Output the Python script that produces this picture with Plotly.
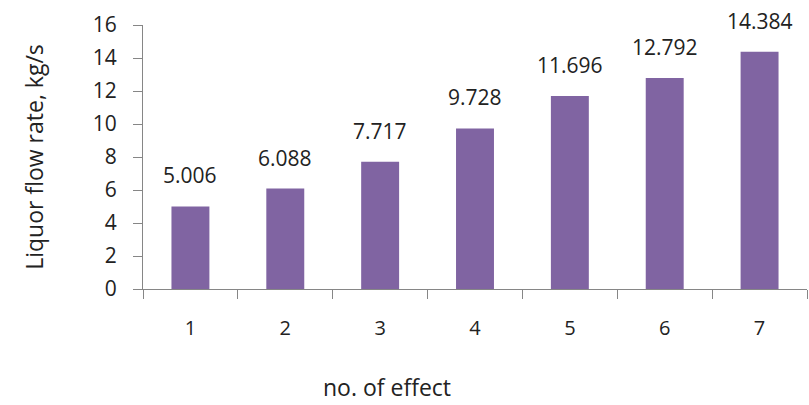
import plotly.graph_objects as go

categories = ["1", "2", "3", "4", "5", "6", "7"]
values = [5.006, 6.088, 7.717, 9.728, 11.696, 12.792, 14.384]
labels = ["5.006", "6.088", "7.717", "9.728", "11.696", "12.792", "14.384"]
y_ticks = [0, 2, 4, 6, 8, 10, 12, 14, 16]

FONT = "Open Sans"
AXIS_COLOR = "#868686"
TEXT_COLOR = "#222222"

fig = go.Figure()
fig.add_trace(go.Bar(
    x=categories, y=values,
    marker=dict(color="#8064A2", line=dict(width=0)),
    width=0.4,
    hoverinfo="skip",
))

for i, (v, t) in enumerate(zip(values, labels)):
    fig.add_annotation(x=i, y=v, text=t, showarrow=False, xanchor="center",
                       yanchor="bottom", yshift=15,
                       font=dict(family=FONT, size=21, color=TEXT_COLOR))

fig.add_annotation(xref="paper", yref="paper", x=0.367, y=-0.372,
                   text="no. of effect", showarrow=False, xanchor="center",
                   yanchor="middle", font=dict(family=FONT, size=23, color=TEXT_COLOR))

fig.update_layout(
    width=809, height=405,
    margin=dict(l=143, r=2, t=25, b=116),
    paper_bgcolor="white", plot_bgcolor="white",
    showlegend=False,
    font=dict(family=FONT, color=TEXT_COLOR),
    xaxis=dict(
        type="category", range=[-0.5, 6.5],
        showline=True, linecolor=AXIS_COLOR, linewidth=1,
        ticks="outside", tickson="boundaries", ticklen=9, tickcolor=AXIS_COLOR,
        tickfont=dict(family=FONT, size=20, color=TEXT_COLOR),
        ticklabelstandoff=21,
        showgrid=False, zeroline=False,
    ),
    yaxis=dict(
        range=[0, 16], tickvals=y_ticks,
        showline=True, linecolor=AXIS_COLOR, linewidth=1,
        ticks="outside", ticklen=9, tickcolor=AXIS_COLOR,
        tickfont=dict(family=FONT, size=21, color=TEXT_COLOR),
        ticklabelstandoff=12,
        showgrid=False, zeroline=False,
        title=dict(text="Liquor flow rate, kg/s", standoff=42,
                   font=dict(family=FONT, size=23, color=TEXT_COLOR)),
    ),
)

fig.write_html("out.html")
